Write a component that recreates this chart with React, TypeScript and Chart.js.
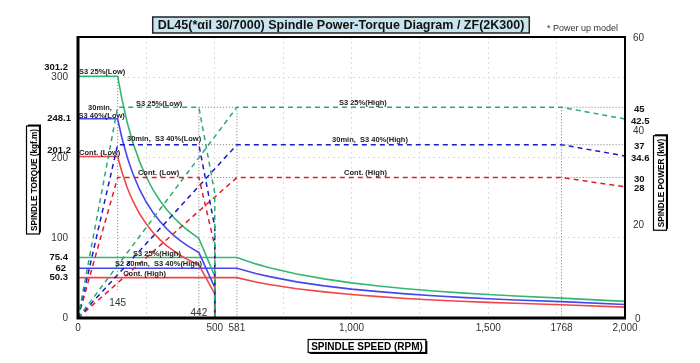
import React, { useEffect, useRef } from 'react';
import { Chart, registerables } from 'chart.js';

Chart.register(...registerables);

const FONT = '"Liberation Sans", Arial, sans-serif';

// ---- data ----
const lowTorqueRpm = [0, 145, 160, 180, 200, 225, 250, 275, 300, 325, 350, 375, 400, 442, 500, 500];
const lowTorqueS3_25 = [301.2, 301.2, 273.9, 243.4, 219.1, 194.8, 175.3, 159.3, 146.1, 134.8, 125.2, 116.9, 109.6, 99.1, 52, 0];
const lowTorqueS3_40 = [248.1, 248.1, 225.2, 200.2, 180.2, 160.1, 144.1, 131.0, 120.1, 110.9, 102.9, 96.1, 90.1, 81.5, 38, 0];
const lowTorqueCont = [201.2, 201.2, 182.6, 162.3, 146.1, 129.8, 116.9, 106.2, 97.4, 89.9, 83.5, 77.9, 73.0, 66.1, 30, 0];

const highTorqueRpm = [0, 581, 650, 700, 800, 900, 1000, 1100, 1200, 1300, 1400, 1500, 1600, 1768, 2000];
const highTorqueS3_25 = [75.4, 75.4, 67.4, 62.6, 54.8, 48.7, 43.8, 39.8, 36.5, 33.7, 31.3, 29.2, 27.4, 24.8, 20.7];
const highTorqueS3_40 = [62, 62, 55.4, 51.5, 45.0, 40.0, 36.0, 32.8, 30.0, 27.7, 25.7, 24.0, 22.5, 20.4, 16.8];
const highTorqueCont = [50.3, 50.3, 44.9, 41.7, 36.5, 32.5, 29.2, 26.6, 24.3, 22.5, 20.9, 19.5, 18.3, 16.5, 13.6];

const lowPowerRpm = [0, 145, 442, 500, 500];
const lowPowerS3_25 = [0, 45, 45, 26.7, 0];
const lowPowerS3_40 = [0, 37, 37, 19.5, 0];
const lowPowerCont = [0, 30, 30, 15.4, 0];

const highPowerRpm = [0, 581, 1768, 2000];
const highPowerS3_25 = [0, 45, 45, 42.5];
const highPowerS3_40 = [0, 37, 37, 34.6];
const highPowerCont = [0, 30, 30, 28];

// guide (dotted) lines: [x1, y1, x2, y2]
const guideTorque = [[145, 301.2, 145, 32]];
const guidePower = [
  [442, 45, 442, 0], [581, 45, 581, 0], [1768, 45, 1768, 0],
  [442, 45, 581, 45], [442, 37, 581, 37], [442, 30, 581, 30],
  [1768, 45, 2000, 45], [1768, 37, 2000, 37], [1768, 30, 2000, 30],
];

// tick labels
const torqueTicks = [0, 100, 200, 300];
const torqueMarks = [50.3, 62, 75.4, 201.2, 248.1, 301.2];
const powerTicks = [0, 20, 40, 60];
const powerMarks = [28, 30, 34.6, 37, 42.5, 45];
const speedTicks = [0, 500, 581, 1000, 1500, 1768, 2000];
const speedTickLabels = ['0', '500', '581', '1,000', '1,500', '1768', '2,000'];
const speedMarks = [145, 442];

// in-chart labels: [text, rpm, value, axis]
const curveLabels: [string, number, number, string][] = [
  ['S3 25%(Low)', 4, 306, 'y'],
  ['30min,', 37, 262, 'y'],
  ['S3 40%(Low)', 2, 252, 'y'],
  ['Cont. (Low)', 4, 206, 'y'],
  ['S3 25%(Low)', 212, 45.8, 'y2'],
  ['30min,  S3 40%(Low)', 179, 38.2, 'y2'],
  ['Cont. (Low)', 219, 31, 'y2'],
  ['S3 25%(High)', 954, 45.9, 'y2'],
  ['30min,  S3 40%(High)', 929, 38, 'y2'],
  ['Cont. (High)', 973, 31, 'y2'],
  ['S3 25%(High)', 201, 80, 'y'],
  ['S2 30min,  S3 40%(High)', 135, 67.5, 'y'],
  ['Cont. (High)', 165, 55, 'y'],
];

const GREEN = 'rgb(52,182,112)';
const BLUE = 'rgb(70,70,240)';
const RED = 'rgb(240,70,70)';
const GREEN_D = 'rgb(40,170,115)';
const BLUE_D = 'rgb(25,25,205)';
const RED_D = 'rgb(222,30,45)';

function pts(xs: number[], ys: number[]) {
  return xs.map((x, i) => ({ x, y: ys[i] }));
}

function solid(xs: number[], ys: number[], color: string) {
  return { data: pts(xs, ys), yAxisID: 'y', borderColor: color, borderWidth: 1.6, pointRadius: 0, fill: false, tension: 0 };
}
function dashed(xs: number[], ys: number[], color: string) {
  return { data: pts(xs, ys), yAxisID: 'y2', borderColor: color, borderWidth: 1.5, borderDash: [5, 4], pointRadius: 0, fill: false, tension: 0 };
}
function guide(seg: number[], axis: string) {
  return {
    data: [{ x: seg[0], y: seg[1] }, { x: seg[2], y: seg[3] }], yAxisID: axis,
    borderColor: 'rgb(120,120,120)', borderWidth: 1, borderDash: [1, 2], pointRadius: 0, fill: false,
  };
}

const overlay = {
  id: 'overlay',
  afterDraw(chart: any) {
    const ctx = chart.ctx as CanvasRenderingContext2D;
    const { left, right, top, bottom } = chart.chartArea;
    const sx = chart.scales.x, sy = chart.scales.y, sy2 = chart.scales.y2;
    ctx.save();
    // frame
    ctx.strokeStyle = '#000';
    ctx.lineWidth = 2;
    ctx.beginPath();
    ctx.moveTo(left, top); ctx.lineTo(right, top); ctx.lineTo(right, bottom);
    ctx.stroke();
    ctx.lineWidth = 3;
    ctx.beginPath();
    ctx.moveTo(left, top - 1); ctx.lineTo(left, bottom); ctx.lineTo(right + 1, bottom);
    ctx.stroke();

    // left ticks
    ctx.textBaseline = 'middle';
    ctx.textAlign = 'right';
    ctx.fillStyle = '#333';
    ctx.font = `10px ${FONT}`;
    torqueTicks.forEach(v => ctx.fillText(String(v), 68, sy.getPixelForValue(v) + 0.5));
    ctx.fillStyle = '#111';
    ctx.font = `bold 9.5px ${FONT}`;
    torqueMarks.forEach(v => {
      let dy = 0;
      if (v === 301.2) dy = -9;
      if (v === 201.2) dy = -6;
      const tx = v === 248.1 || v === 201.2 ? 71 : v === 62 ? 66 : 68;
      ctx.fillText(String(v), tx, sy.getPixelForValue(v) + dy);
    });

    // right ticks
    ctx.textAlign = 'left';
    ctx.fillStyle = '#333';
    ctx.font = `10px ${FONT}`;
    powerTicks.forEach(v => {
      const px = v === 0 ? 635 : 633;
      ctx.fillText(String(v), px, sy2.getPixelForValue(v) + 1);
    });
    ctx.fillStyle = '#111';
    ctx.font = `bold 9.5px ${FONT}`;
    powerMarks.forEach(v => {
      const px = v === 42.5 || v === 34.6 ? 631 : 634;
      ctx.fillText(String(v), px, sy2.getPixelForValue(v) + 2);
    });

    // x ticks
    ctx.textAlign = 'center';
    ctx.fillStyle = '#333';
    ctx.font = `10px ${FONT}`;
    speedTicks.forEach((v, i) => ctx.fillText(speedTickLabels[i], sx.getPixelForValue(v), bottom + 10));
    ctx.fillText(String(speedMarks[0]), sx.getPixelForValue(speedMarks[0]), bottom - 15);
    ctx.fillText(String(speedMarks[1]), sx.getPixelForValue(speedMarks[1]), bottom - 5);

    // curve labels
    ctx.textAlign = 'left';
    ctx.fillStyle = '#222';
    ctx.font = `bold 7.5px ${FONT}`;
    curveLabels.forEach(([t, x, y, ax]) => {
      const sc = ax === 'y' ? sy : sy2;
      ctx.fillText(t, sx.getPixelForValue(x), sc.getPixelForValue(y));
    });

    // title box
    ctx.font = `bold 12.5px ${FONT}`;
    const title = 'DL45(*αil 30/7000) Spindle Power-Torque Diagram / ZF(2K300)';
    const tw = ctx.measureText(title).width;
    const cx = 341, cy = 25;
    const bw = tw + 10, bh = 16;
    ctx.fillStyle = '#c8e4ee';
    ctx.fillRect(cx - bw / 2, cy - bh / 2, bw, bh);
    ctx.strokeStyle = '#222';
    ctx.lineWidth = 1.5;
    ctx.strokeRect(cx - bw / 2, cy - bh / 2, bw, bh);
    ctx.fillStyle = '#111';
    ctx.textAlign = 'center';
    ctx.fillText(title, cx, cy + 1);

    ctx.font = `9px ${FONT}`;
    ctx.fillStyle = '#333';
    ctx.textAlign = 'left';
    ctx.fillText('* Power up model', 547, 29);

    // axis title boxes
    const boxed = (text: string, x: number, y: number, rot: number, size: number, sxf: number) => {
      ctx.save();
      ctx.translate(x, y);
      ctx.rotate(rot);
      ctx.font = `bold ${size}px ${FONT}`;
      const w = ctx.measureText(text).width * sxf + 6;
      const h = 13;
      ctx.fillStyle = '#000';
      ctx.fillRect(-w / 2 + 1.5, -h / 2 + 1.5, w, h);
      ctx.fillStyle = '#fff';
      ctx.fillRect(-w / 2, -h / 2, w, h);
      ctx.strokeStyle = '#000';
      ctx.lineWidth = 1.2;
      ctx.strokeRect(-w / 2, -h / 2, w, h);
      ctx.fillStyle = '#000';
      ctx.textAlign = 'center';
      ctx.textBaseline = 'middle';
      ctx.scale(sxf, 1);
      ctx.fillText(text, 0, 1);
      ctx.restore();
    };
    boxed('SPINDLE TORQUE (kgf.m)', 33, 180, -Math.PI / 2, 9.5, 0.86);
    boxed('SPINDLE POWER (kW)', 660, 183, -Math.PI / 2, 9.5, 0.86);
    boxed('SPINDLE SPEED (RPM)', 367, 346, 0, 10, 1);

    ctx.restore();
  },
};

export default function App() {
  const ref = useRef<HTMLCanvasElement | null>(null);
  useEffect(() => {
    if (!ref.current) return;
    const datasets: any[] = [
      ...guideTorque.map(s => guide(s, 'y')),
      ...guidePower.map(s => guide(s, 'y2')),
      dashed(lowPowerRpm, lowPowerS3_25, GREEN_D),
      dashed(lowPowerRpm, lowPowerS3_40, BLUE_D),
      dashed(lowPowerRpm, lowPowerCont, RED_D),
      dashed(highPowerRpm, highPowerS3_25, GREEN_D),
      dashed(highPowerRpm, highPowerS3_40, BLUE_D),
      dashed(highPowerRpm, highPowerCont, RED_D),
      solid(lowTorqueRpm, lowTorqueS3_25, GREEN),
      solid(lowTorqueRpm, lowTorqueS3_40, BLUE),
      solid(lowTorqueRpm, lowTorqueCont, RED),
      solid(highTorqueRpm, highTorqueS3_25, GREEN),
      solid(highTorqueRpm, highTorqueS3_40, BLUE),
      solid(highTorqueRpm, highTorqueCont, RED),
    ];
    const chart = new Chart(ref.current, {
      type: 'line',
      data: { datasets },
      options: {
        animation: false,
        responsive: false,
        parsing: false as any,
        layout: { padding: { left: 78, right: 75, top: 37, bottom: 45 } },
        plugins: { legend: { display: false }, tooltip: { enabled: false }, title: { display: false } },
        scales: {
          x: {
            type: 'linear', min: 0, max: 2000,
            ticks: { display: false, stepSize: 250 },
            grid: { color: 'rgb(220,220,220)', drawTicks: false, lineWidth: 1 },
            border: { display: false, dash: [2, 3] },
          },
          y: {
            type: 'linear', min: 0, max: 350,
            ticks: { display: false, stepSize: 100 },
            grid: { color: 'rgb(220,220,220)', drawTicks: false, lineWidth: 1 },
            border: { display: false, dash: [2, 3] },
          },
          y2: {
            type: 'linear', min: 0, max: 60, position: 'right', display: false,
          },
        },
      } as any,
      plugins: [overlay],
    });
    return () => chart.destroy();
  }, []);
  return (
    <div style={{ position: 'absolute', left: 0, top: 0, width: 700, height: 363, background: '#fff' }}>
      <canvas ref={ref} width={700} height={363} style={{ width: 700, height: 363 }} />
    </div>
  );
}
